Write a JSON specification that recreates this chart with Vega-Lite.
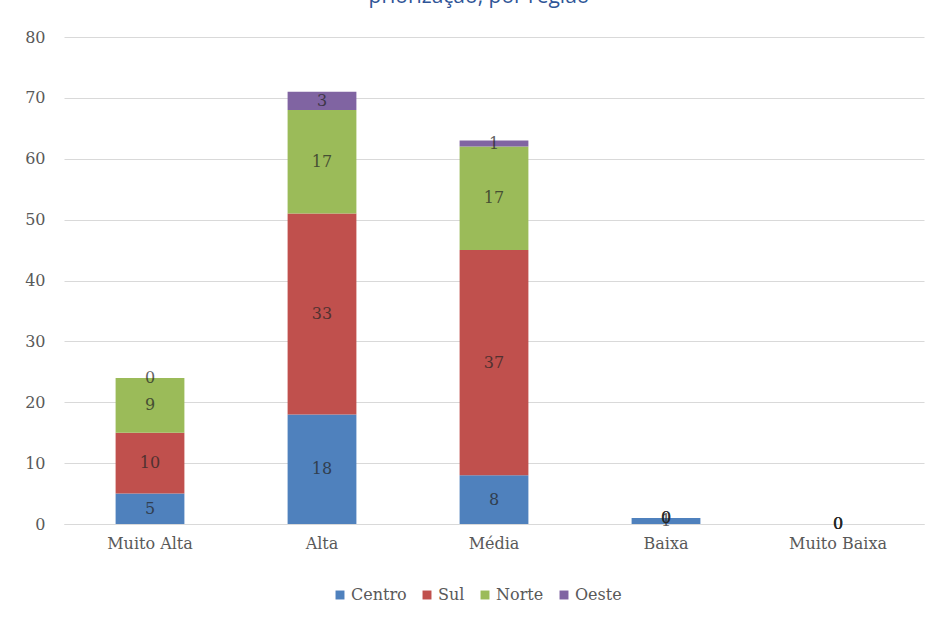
{
  "$schema": "https://vega.github.io/schema/vega-lite/v6.json",
  "width": 860,
  "height": 487,
  "autosize": {"type": "none"},
  "padding": {"left": 64, "top": 37, "right": 13, "bottom": 95},
  "background": "white",
  "config": {"view": {"stroke": null}},
  "title": {
    "text": "priorização, por região",
    "anchor": "middle",
    "frame": "group",
    "offset": 22,
    "dx": -15,
    "font": "Open Sans",
    "fontSize": 21,
    "fontWeight": "normal",
    "color": "#2f5597"
  },
  "data": {
    "values": [
      {"nivel": "Muito Alta", "regiao": "Centro", "valor": 5},
      {"nivel": "Muito Alta", "regiao": "Sul", "valor": 10},
      {"nivel": "Muito Alta", "regiao": "Norte", "valor": 9},
      {"nivel": "Muito Alta", "regiao": "Oeste", "valor": 0},
      {"nivel": "Alta", "regiao": "Centro", "valor": 18},
      {"nivel": "Alta", "regiao": "Sul", "valor": 33},
      {"nivel": "Alta", "regiao": "Norte", "valor": 17},
      {"nivel": "Alta", "regiao": "Oeste", "valor": 3},
      {"nivel": "Média", "regiao": "Centro", "valor": 8},
      {"nivel": "Média", "regiao": "Sul", "valor": 37},
      {"nivel": "Média", "regiao": "Norte", "valor": 17},
      {"nivel": "Média", "regiao": "Oeste", "valor": 1},
      {"nivel": "Baixa", "regiao": "Centro", "valor": 1},
      {"nivel": "Baixa", "regiao": "Sul", "valor": 0},
      {"nivel": "Baixa", "regiao": "Norte", "valor": 0},
      {"nivel": "Baixa", "regiao": "Oeste", "valor": 0},
      {"nivel": "Muito Baixa", "regiao": "Centro", "valor": 0},
      {"nivel": "Muito Baixa", "regiao": "Sul", "valor": 0},
      {"nivel": "Muito Baixa", "regiao": "Norte", "valor": 0},
      {"nivel": "Muito Baixa", "regiao": "Oeste", "valor": 0}
    ]
  },
  "transform": [
    {"calculate": "indexof(['Centro','Sul','Norte','Oeste'], datum.regiao)", "as": "ordem"}
  ],
  "encoding": {
    "x": {
      "field": "nivel",
      "type": "nominal",
      "sort": ["Muito Alta", "Alta", "Média", "Baixa", "Muito Baixa"],
      "scale": {"paddingInner": 0.6, "paddingOuter": 0.3},
      "axis": {
        "title": null,
        "labelAngle": 0,
        "labelFont": "DejaVu Serif",
        "labelFontSize": 16,
        "labelColor": "#595959",
        "labelPadding": 11,
        "ticks": false,
        "domainColor": "#d9d9d9",
        "grid": false
      }
    },
    "y": {
      "field": "valor",
      "type": "quantitative",
      "stack": "zero",
      "scale": {"domain": [0, 80]},
      "axis": {
        "title": null,
        "values": [0, 10, 20, 30, 40, 50, 60, 70, 80],
        "labelFont": "DejaVu Serif",
        "labelFontSize": 16,
        "labelColor": "#595959",
        "labelPadding": 19,
        "ticks": false,
        "domain": false,
        "gridColor": "#d9d9d9",
        "gridWidth": 1
      }
    },
    "order": {"field": "ordem", "type": "quantitative"}
  },
  "layer": [
    {
      "mark": {"type": "bar"},
      "encoding": {
        "color": {
          "field": "regiao",
          "type": "nominal",
          "sort": ["Centro", "Sul", "Norte", "Oeste"],
          "scale": {
            "domain": ["Centro", "Sul", "Norte", "Oeste"],
            "range": ["#4f81bd", "#c0504d", "#9bbb59", "#8064a2"]
          },
          "legend": {
            "title": null,
            "orient": "none",
            "legendX": 268,
            "legendY": 550,
            "direction": "horizontal",
            "symbolType": "square",
            "symbolSize": 80,
            "symbolStrokeWidth": 0,
            "symbolOpacity": 1,
            "labelFont": "DejaVu Serif",
            "labelFontSize": 16,
            "labelColor": "#595959",
            "labelOffset": 3,
            "columnPadding": 12
          }
        }
      }
    },
    {
      "mark": {
        "type": "text",
        "font": "DejaVu Serif",
        "fontSize": 16,
        "color": "#262626",
        "opacity": 0.72,
        "baseline": "middle"
      },
      "encoding": {
        "y": {"field": "valor", "type": "quantitative", "stack": "zero", "bandPosition": 0.5},
        "text": {"field": "valor", "type": "quantitative"}
      }
    }
  ]
}
